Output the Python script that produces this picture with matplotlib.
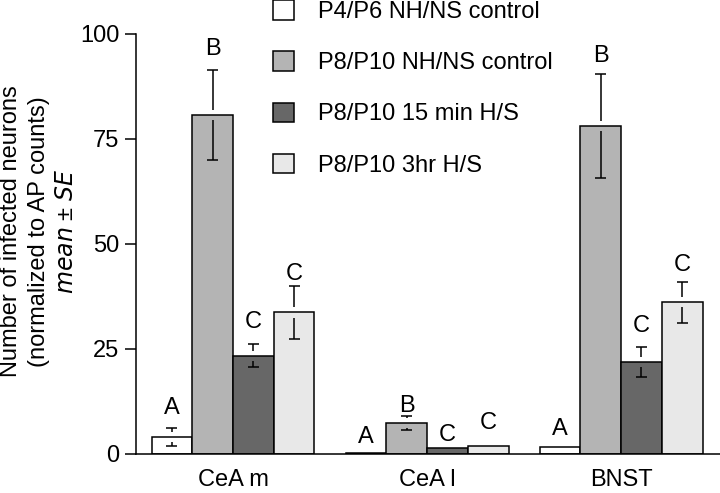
import matplotlib
matplotlib.use("Agg")
import matplotlib.pyplot as plt
import numpy as np
from matplotlib.patches import Patch

plt.rcParams["font.family"] = ["Liberation Sans", "DejaVu Sans"]
plt.rcParams["font.size"] = 17

regions = ["CeA m", "CeA l", "BNST"]
groups = ["P4/P6 NH/NS control", "P8/P10 NH/NS control",
          "P8/P10 15 min H/S", "P8/P10 3hr H/S"]
colors = ["#ffffff", "#b4b4b4", "#676767", "#e8e8e8"]

# mean and SE per group, one value per region
means = [
    [4.0, 0.2, 1.7],
    [80.7, 7.4, 78.1],
    [23.4, 1.4, 21.9],
    [33.7, 1.8, 36.1],
]
errors = [
    [2.2, 0.0, 0.0],
    [10.8, 1.6, 12.4],
    [2.7, 0.0, 3.5],
    [6.4, 0.0, 4.8],
]
letters = [
    ["A", "A", "A"],
    ["B", "B", "B"],
    ["C", "C", "C"],
    ["C", "C", "C"],
]
letter_y = [
    [9.5, 2.6, 4.5],
    [95.0, 10.1, 93.4],
    [30.0, 3.2, 29.1],
    [41.4, 6.0, 43.6],
]

fig = plt.figure(figsize=(7.2, 4.93), dpi=100)
ax = fig.add_axes([136 / 720, 1 - 454 / 493, 1 - 136 / 720, 420 / 493])

x = np.arange(len(regions))
width = 0.21
gap = 1.2
cap = 0.028

for i, g in enumerate(groups):
    xs = x + (i - 1.5) * width
    ax.bar(xs, means[i], width, color=colors[i], edgecolor="black",
           linewidth=1.1, label=g, zorder=2)
    for xi, m, se, lt, ly in zip(xs, means[i], errors[i], letters[i], letter_y[i]):
        if se > 0:
            top, bot = m + se, m - se
            ax.vlines(xi, min(m + gap, top), top, color="black", lw=1.1, zorder=3)
            ax.vlines(xi, bot, max(m - gap, bot), color="black", lw=1.1, zorder=3)
            ax.hlines([top, bot], xi - cap, xi + cap, color="black", lw=1.1, zorder=3)
        ax.text(xi, ly, lt, ha="center", va="baseline")

ax.set_xlim(-0.5, 2.51)
ax.set_ylim(0, 100)
ax.set_yticks([0, 25, 50, 75, 100])
ax.set_xticks(x)
ax.set_xticklabels(regions)
ax.tick_params(axis="x", length=0, pad=11)
ax.tick_params(axis="y", length=8, width=1.1, pad=4)
for s in ["top", "right"]:
    ax.spines[s].set_visible(False)
for s in ["left", "bottom"]:
    ax.spines[s].set_linewidth(1.1)

ax.set_ylabel("Number of infected neurons\n(normalized to AP counts)\n$\\it{mean}$ ± $\\it{SE}$",
              linespacing=1.35)
ax.yaxis.set_label_coords((78 - 136) / 584, 0.53)

handles = [Patch(facecolor=c, edgecolor="black", linewidth=1.1) for c in colors]
fig.legend(handles, groups, loc="upper left", bbox_to_anchor=(273 / 720, 1.0),
           bbox_transform=fig.transFigure, frameon=False, borderpad=0,
           borderaxespad=0, handlelength=0.9, handleheight=0.9,
           handletextpad=1.0, labelspacing=1.2)

fig.savefig("out.png", dpi=100)
